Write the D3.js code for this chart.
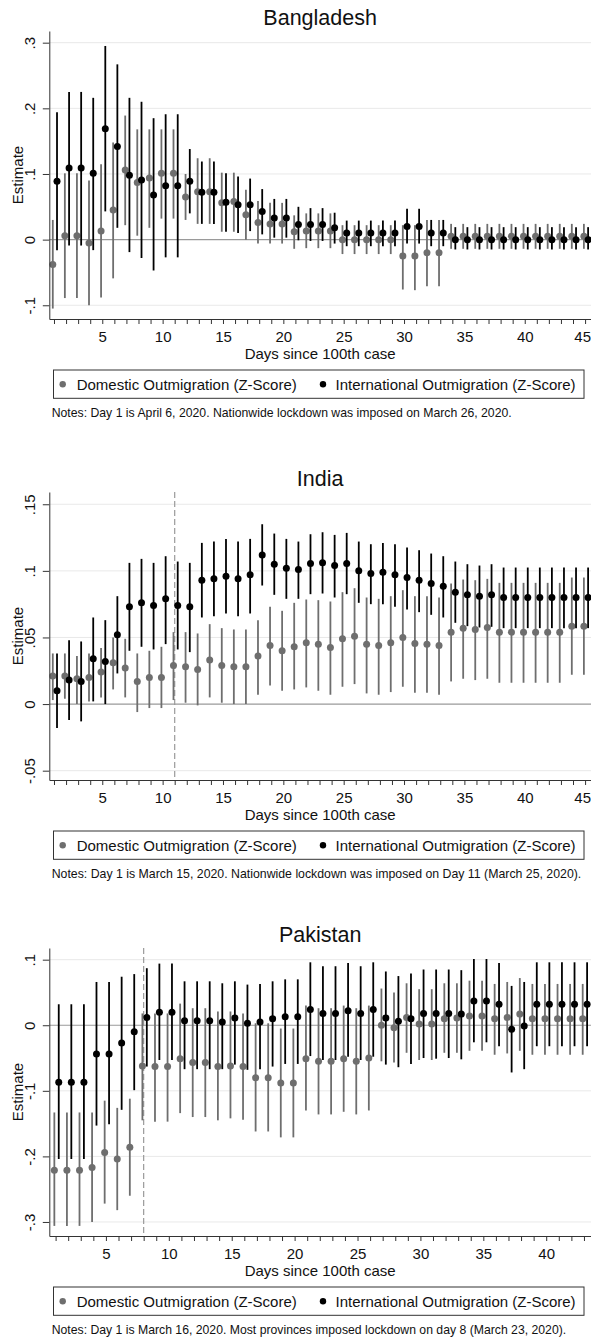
<!DOCTYPE html>
<html><head><meta charset="utf-8">
<script src="https://cdn.jsdelivr.net/npm/d3@7"></script>
<style>body{margin:0;background:#fff}svg{display:block}</style>
</head><body>
<script>
// ---------------- DATA ----------------
const days45 = [1,2,3,4,5,6,7,8,9,10,11,12,13,14,15,16,17,18,19,20,21,22,23,24,25,26,27,28,29,30,31,32,33,34,35,36,37,38,39,40,41,42,43,44,45];
const days43 = [1,2,3,4,5,6,7,8,9,10,11,12,13,14,15,16,17,18,19,20,21,22,23,24,25,26,27,28,29,30,31,32,33,34,35,36,37,38,39,40,41,42,43];
const xTickLabels45 = [5,10,15,20,25,30,35,40,45];
const xTickLabels43 = [5,10,15,20,25,30,35,40];

const bdYTicks = [0.3,0.2,0.1,0,-0.1];
const bdYLabels = [".3",".2",".1","0","-.1"];
const inYTicks = [0.15,0.1,0.05,0,-0.05];
const inYLabels = [".15",".1",".05","0","-.05"];
const pkYTicks = [0.1,0,-0.1,-0.2,-0.3];
const pkYLabels = [".1","0","-.1","-.2","-.3"];

const legendLabels = ["Domestic Outmigration (Z-Score)","International Outmigration (Z-Score)"];

// Bangladesh
const bdDomestic = [-0.038,0.006,0.006,-0.005,0.013,0.045,0.106,0.087,0.094,0.101,
 0.101,0.065,0.073,0.073,0.056,0.058,0.038,0.026,0.024,0.024,
 0.012,0.013,0.013,0.013,0,0,0,0,0,-0.025,
 -0.025,-0.020,-0.020,0.005,0.005,0.005,0.005,0.005,0.005,0.005,
 0.005,0.005,0.005,0.005,0.005];
const bdDomesticLo = [-0.105,-0.089,-0.089,-0.100,-0.088,-0.059,0.022,0.006,0.018,0.032,
 0.032,0.030,0.024,0.024,0.012,0.012,0.000,-0.006,-0.006,-0.006,
 -0.014,-0.013,-0.013,-0.013,-0.022,-0.022,-0.022,-0.022,-0.022,-0.076,
 -0.077,-0.071,-0.071,-0.014,-0.014,-0.014,-0.014,-0.014,-0.014,-0.014,
 -0.014,-0.014,-0.014,-0.014,-0.014];
const bdDomesticHi = [0.030,0.101,0.101,0.090,0.115,0.148,0.189,0.168,0.168,0.168,
 0.168,0.100,0.124,0.124,0.102,0.102,0.076,0.059,0.056,0.056,
 0.037,0.040,0.040,0.040,0.022,0.022,0.022,0.022,0.022,0.022,
 0.022,0.030,0.030,0.024,0.024,0.024,0.024,0.024,0.024,0.024,
 0.024,0.024,0.024,0.024,0.024];
const bdIntl = [0.089,0.109,0.109,0.101,0.169,0.142,0.098,0.091,0.068,0.082,
 0.082,0.089,0.072,0.072,0.057,0.053,0.053,0.043,0.033,0.033,
 0.023,0.023,0.023,0.018,0.010,0.010,0.010,0.010,0.010,0.020,
 0.020,0.010,0.010,0,0,0,0,0,0,0,
 0,0,0,0,0];
const bdIntlLo = [-0.016,-0.009,-0.009,-0.016,0.043,0.018,-0.019,-0.028,-0.047,-0.027,
 -0.027,0.040,0.024,0.024,0.012,0.010,0.013,0.008,0.003,0.003,
 -0.001,-0.002,-0.002,-0.006,-0.010,-0.010,-0.010,-0.010,-0.010,-0.006,
 -0.006,-0.010,-0.010,-0.015,-0.015,-0.015,-0.015,-0.015,-0.015,-0.015,
 -0.015,-0.015,-0.015,-0.015,-0.015];
const bdIntlHi = [0.194,0.225,0.225,0.216,0.295,0.267,0.216,0.210,0.185,0.191,
 0.191,0.138,0.119,0.119,0.101,0.096,0.093,0.077,0.062,0.062,
 0.050,0.048,0.048,0.041,0.029,0.029,0.029,0.029,0.029,0.047,
 0.047,0.030,0.030,0.019,0.019,0.019,0.019,0.019,0.019,0.019,
 0.019,0.019,0.019,0.019,0.019];

// India
const inDomestic = [0.021,0.021,0.019,0.020,0.024,0.031,0.027,0.017,0.020,0.020,
 0.029,0.028,0.026,0.033,0.029,0.028,0.028,0.036,0.044,0.040,
 0.043,0.046,0.045,0.0425,0.049,0.051,0.045,0.044,0.046,0.050,
 0.0455,0.045,0.044,0.054,0.057,0.056,0.0575,0.054,0.054,0.054,
 0.054,0.054,0.054,0.0585,0.0585];
const inDomesticLo = [0.003,0.004,0.000,0.002,0.005,0.011,0.005,-0.006,-0.003,-0.003,
 0.003,0.001,-0.001,0.005,0.001,0.000,0.000,0.007,0.014,0.010,
 0.011,0.0125,0.010,0.007,0.013,0.015,0.008,0.007,0.009,0.013,
 0.0085,0.0085,0.007,0.017,0.019,0.018,0.019,0.016,0.016,0.016,
 0.016,0.016,0.016,0.022,0.022];
const inDomesticHi = [0.038,0.038,0.036,0.038,0.042,0.050,0.049,0.038,0.040,0.043,
 0.054,0.054,0.053,0.060,0.057,0.056,0.056,0.063,0.073,0.070,
 0.076,0.0785,0.078,0.077,0.084,0.087,0.080,0.079,0.081,0.0855,
 0.081,0.081,0.080,0.0905,0.0935,0.093,0.094,0.091,0.091,0.091,
 0.091,0.091,0.091,0.095,0.095];
const inIntl = [0.010,0.018,0.017,0.034,0.032,0.052,0.073,0.076,0.074,0.079,
 0.074,0.073,0.093,0.094,0.096,0.094,0.097,0.112,0.105,0.102,
 0.101,0.1055,0.106,0.104,0.1055,0.100,0.098,0.099,0.097,0.095,
 0.093,0.0905,0.0885,0.084,0.082,0.081,0.082,0.080,0.080,0.080,
 0.080,0.080,0.080,0.080,0.080];
const inIntlLo = [-0.018,-0.012,-0.013,0.002,0.000,0.023,0.040,0.043,0.041,0.045,
 0.041,0.039,0.065,0.066,0.068,0.066,0.068,0.089,0.082,0.079,
 0.079,0.0825,0.083,0.080,0.0825,0.076,0.075,0.075,0.073,0.071,
 0.069,0.067,0.065,0.061,0.0585,0.0575,0.058,0.057,0.057,0.057,
 0.057,0.057,0.057,0.057,0.057];
const inIntlHi = [0.038,0.048,0.047,0.065,0.063,0.081,0.106,0.109,0.106,0.111,
 0.107,0.106,0.121,0.122,0.124,0.122,0.124,0.135,0.128,0.124,
 0.122,0.1275,0.129,0.127,0.1285,0.122,0.120,0.121,0.120,0.1175,
 0.1155,0.113,0.111,0.107,0.105,0.104,0.105,0.1025,0.1025,0.1025,
 0.1025,0.1025,0.1025,0.1025,0.1025];

// Pakistan
const pkDomestic = [-0.221,-0.221,-0.221,-0.217,-0.194,-0.204,-0.186,-0.062,-0.063,-0.063,
 -0.051,-0.057,-0.057,-0.063,-0.062,-0.063,-0.080,-0.080,-0.088,-0.088,
 -0.051,-0.055,-0.055,-0.051,-0.055,-0.050,0.000,-0.004,0.012,0.002,
 0.002,0.010,0.011,0.014,0.014,0.010,0.012,0.017,0.010,0.010,
 0.010,0.010,0.010];
const pkDomesticLo = [-0.306,-0.306,-0.306,-0.300,-0.272,-0.282,-0.260,-0.145,-0.147,-0.147,
 -0.134,-0.140,-0.140,-0.145,-0.142,-0.144,-0.162,-0.162,-0.171,-0.171,
 -0.130,-0.136,-0.136,-0.132,-0.136,-0.130,-0.055,-0.057,-0.042,-0.053,
 -0.053,-0.042,-0.042,-0.039,-0.039,-0.045,-0.043,-0.039,-0.045,-0.045,
 -0.045,-0.045,-0.045];
const pkDomesticHi = [-0.133,-0.133,-0.133,-0.133,-0.115,-0.126,-0.112,0.018,0.018,0.018,
 0.033,0.026,0.026,0.021,0.021,0.018,0.003,0.003,-0.005,-0.005,
 0.030,0.026,0.026,0.030,0.026,0.030,0.056,0.050,0.064,0.055,
 0.055,0.064,0.064,0.068,0.068,0.063,0.066,0.072,0.063,0.063,
 0.063,0.063,0.063];
const pkIntl = [-0.087,-0.087,-0.087,-0.044,-0.044,-0.027,-0.010,0.012,0.020,0.020,
 0.007,0.007,0.007,0.005,0.011,0.003,0.005,0.010,0.013,0.013,
 0.024,0.018,0.018,0.022,0.018,0.024,0.011,0.006,0.010,0.018,
 0.018,0.018,0.017,0.037,0.037,0.032,-0.006,-0.001,0.032,0.032,
 0.032,0.032,0.032];
const pkIntlLo = [-0.204,-0.204,-0.204,-0.153,-0.151,-0.129,-0.099,-0.063,-0.053,-0.053,
 -0.067,-0.067,-0.067,-0.067,-0.060,-0.068,-0.067,-0.063,-0.059,-0.059,
 -0.047,-0.053,-0.053,-0.048,-0.053,-0.048,-0.060,-0.064,-0.059,-0.050,
 -0.051,-0.050,-0.052,-0.026,-0.026,-0.032,-0.072,-0.067,-0.032,-0.032,
 -0.032,-0.032,-0.032];
const pkIntlHi = [0.032,0.032,0.032,0.066,0.066,0.074,0.078,0.087,0.094,0.094,
 0.067,0.067,0.067,0.064,0.067,0.062,0.063,0.067,0.070,0.070,
 0.096,0.090,0.090,0.095,0.090,0.096,0.082,0.075,0.079,0.085,
 0.085,0.085,0.084,0.101,0.101,0.095,0.060,0.066,0.096,0.096,
 0.096,0.096,0.096];

// ---------------- PANELS ----------------
const panels = [
  {title:"Bangladesh", offset:0, days:days45, xLabels:xTickLabels45, xDomain:[0.611,45.49],
   yDomain:[-0.1209,0.3178], yTicks:bdYTicks, yLabels:bdYLabels, dash:null,
   dom:bdDomestic, domLo:bdDomesticLo, domHi:bdDomesticHi, intl:bdIntl, intlLo:bdIntlLo, intlHi:bdIntlHi,
   note:"Notes: Day 1 is April 6, 2020. Nationwide lockdown was imposed on March 26, 2020.", noteW:460},
  {title:"India", offset:461, days:days45, xLabels:xTickLabels45, xDomain:[0.611,45.49],
   yDomain:[-0.057,0.1592], yTicks:inYTicks, yLabels:inYLabels, dash:11,
   dom:inDomestic, domLo:inDomesticLo, domHi:inDomesticHi, intl:inIntl, intlLo:inIntlLo, intlHi:inIntlHi,
   note:"Notes: Day 1 is March 15, 2020. Nationwide lockdown was imposed on Day 11 (March 25, 2020).", noteW:529.6},
  {title:"Pakistan", offset:917, days:days43, xLabels:xTickLabels43, xDomain:[0.499,43.56],
   yDomain:[-0.3214,0.1178], yTicks:pkYTicks, yLabels:pkYLabels, dash:8,
   dom:pkDomestic, domLo:pkDomesticLo, domHi:pkDomesticHi, intl:pkIntl, intlLo:pkIntlLo, intlHi:pkIntlHi,
   note:"Notes: Day 1 is March 16, 2020. Most provinces imposed lockdown on day 8 (March 23, 2020).", noteW:514.5}
];

const W = 591, H = 1339;
const L = 49.3, R = 591, T = 31, B = 319;
const GRAY = "#6e6e6e", BLACK = "#000";
const FONT = "'Liberation Sans', Arial, Helvetica, sans-serif";

const svg = d3.select("body").append("svg").attr("width", W).attr("height", H)
  .style("font-family", FONT);

panels.forEach(p => {
  const g = svg.append("g").attr("transform", `translate(0,${p.offset})`);
  const x = d3.scaleLinear().domain(p.xDomain).range([L, R]);
  const y = d3.scaleLinear().domain(p.yDomain).range([B, T]);

  // title
  g.append("text").attr("x", (L + R) / 2).attr("y", 25).attr("text-anchor", "middle")
    .attr("font-size", 21.5).attr("fill", "#111").text(p.title);

  // gridlines
  g.selectAll(".grid").data(p.yTicks.filter(t => t !== 0)).enter().append("line")
    .attr("x1", L).attr("x2", R).attr("y1", d => y(d)).attr("y2", d => y(d))
    .attr("stroke", "#e9e9e9").attr("stroke-width", 1);
  // zero line
  g.append("line").attr("x1", L).attr("x2", R).attr("y1", y(0)).attr("y2", y(0))
    .attr("stroke", "#9a9a9a").attr("stroke-width", 1.2);
  // dashed vertical line
  if (p.dash !== null) {
    g.append("line").attr("x1", x(p.dash)).attr("x2", x(p.dash)).attr("y1", T).attr("y2", B)
      .attr("stroke", "#9a9a9a").attr("stroke-width", 1.2).attr("stroke-dasharray", "6,3");
  }

  const series = [
    {v:p.dom, lo:p.domLo, hi:p.domHi, off:-0.1, color:GRAY},
    {v:p.intl, lo:p.intlLo, hi:p.intlHi, off:0.25, color:BLACK}
  ];
  series.forEach(s => {
    const rows = p.days.map((d, i) => ({d, v:s.v[i], lo:s.lo[i], hi:s.hi[i]}));
    const sg = g.append("g");
    sg.selectAll("line").data(rows).enter().append("line")
      .attr("x1", r => x(r.d + s.off)).attr("x2", r => x(r.d + s.off))
      .attr("y1", r => y(r.lo)).attr("y2", r => y(r.hi))
      .attr("stroke", s.color).attr("stroke-width", 1.8);
    sg.selectAll("circle").data(rows).enter().append("circle")
      .attr("cx", r => x(r.d + s.off)).attr("cy", r => y(r.v)).attr("r", 3.5)
      .attr("fill", s.color);
  });

  // y axis
  const yAxis = d3.axisLeft(y).tickValues(p.yTicks)
    .tickFormat((d, i) => p.yLabels[i]).tickSize(6.5).tickSizeOuter(0);
  const ya = g.append("g").attr("transform", `translate(${L},0)`).call(yAxis);
  ya.select(".domain").attr("stroke", "#333");
  ya.selectAll(".tick line").attr("stroke", "#333");
  ya.selectAll(".tick text").attr("x", 0).attr("y", 0).attr("dy", 0)
    .attr("transform", "translate(-14.3,0) rotate(-90)").attr("text-anchor", "middle")
    .attr("font-size", 15).attr("font-family", FONT).attr("fill", "#111");

  // x axis
  const xAxis = d3.axisBottom(x).tickValues(p.days)
    .tickFormat(d => p.xLabels.includes(d) ? String(d) : "").tickSize(5).tickSizeOuter(0);
  const xa = g.append("g").attr("transform", `translate(0,${B})`).call(xAxis);
  xa.select(".domain").attr("stroke", "#333");
  xa.selectAll(".tick line").attr("stroke", "#333");
  xa.selectAll(".tick text").attr("y", 23.3).attr("dy", 0)
    .attr("font-size", 15).attr("font-family", FONT).attr("fill", "#111");
  // keep the last label inside the picture
  xa.selectAll(".tick").each(function(d) {
    const t = d3.select(this).select("text");
    if (!t.text()) return;
    const bb = t.node().getBBox();
    const absRight = x(d) + bb.x + bb.width;
    if (absRight > W - 0.5) t.attr("x", (W - 0.5) - absRight);
  });

  // axis titles
  g.append("text").attr("x", (L + R) / 2).attr("y", 358.5).attr("text-anchor", "middle")
    .attr("font-size", 15).attr("fill", "#111").text("Days since 100th case");
  g.append("text").attr("transform", `translate(22.7,${(T + B) / 2}) rotate(-90)`)
    .attr("text-anchor", "middle").attr("font-size", 15).attr("fill", "#111").text("Estimate");

  // legend
  g.append("rect").attr("x", 53.5).attr("y", 370).attr("width", 530.5).attr("height", 28.3)
    .attr("fill", "#fff").attr("stroke", "#333").attr("stroke-width", 1);
  g.append("circle").attr("cx", 62.7).attr("cy", 384.3).attr("r", 3.2).attr("fill", GRAY);
  g.append("text").attr("x", 76.7).attr("y", 390.2).attr("font-size", 15).attr("fill", "#111")
    .text(legendLabels[0]);
  g.append("circle").attr("cx", 323).attr("cy", 384.3).attr("r", 3.2).attr("fill", BLACK);
  g.append("text").attr("x", 335.5).attr("y", 390.2).attr("font-size", 15).attr("fill", "#111")
    .text(legendLabels[1]);

  // notes
  g.append("text").attr("x", 51.7).attr("y", 416.7).attr("font-size", 12.2).attr("fill", "#111")
    .attr("textLength", p.noteW).attr("lengthAdjust", "spacingAndGlyphs").text(p.note);
});
</script>
</body></html>
